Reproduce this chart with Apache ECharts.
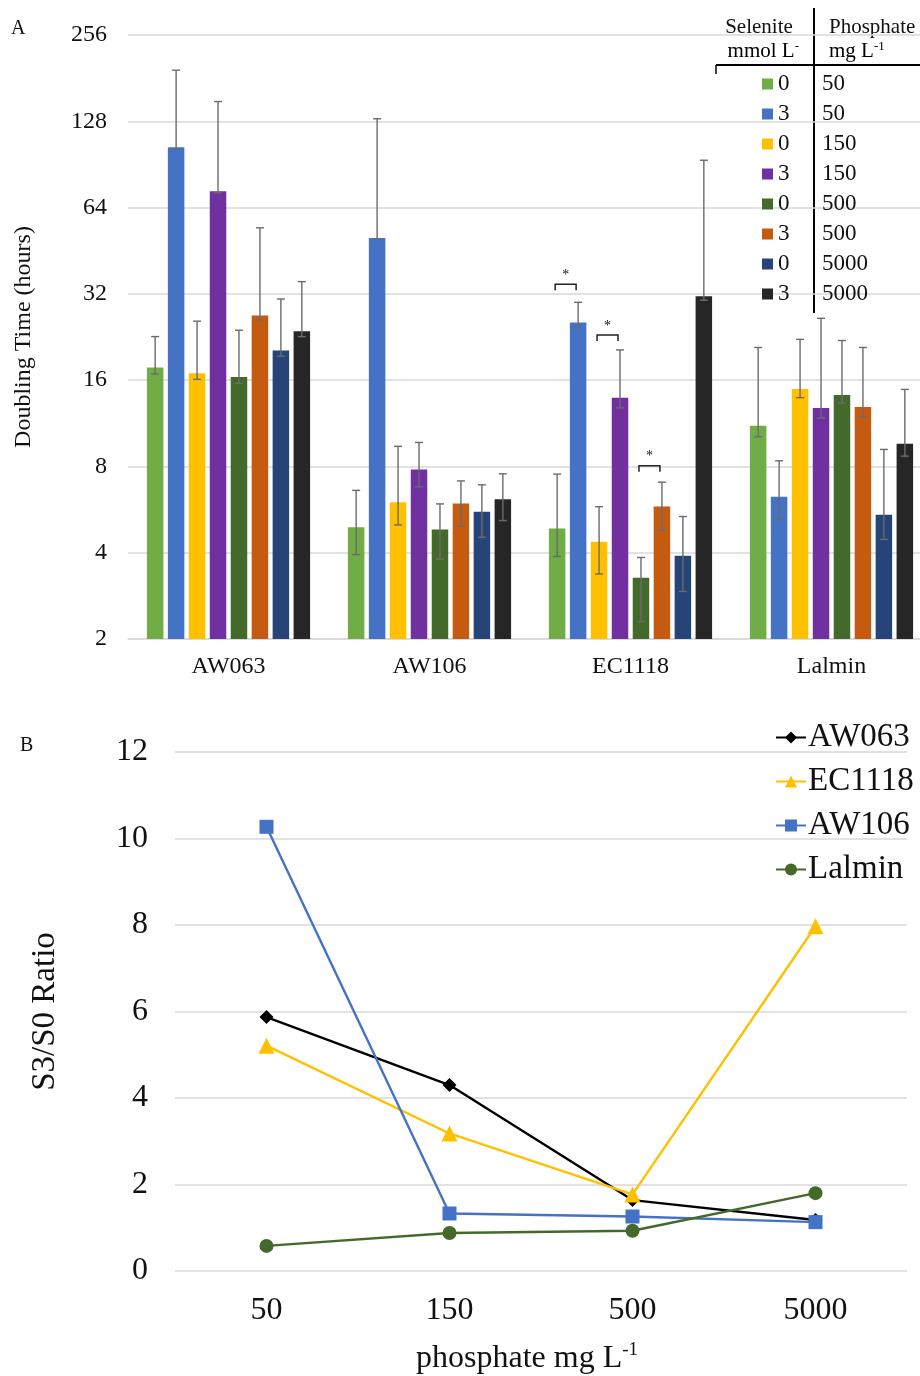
<!DOCTYPE html>
<html><head><meta charset="utf-8">
<script src="https://cdn.jsdelivr.net/npm/echarts@6/dist/echarts.min.js"></script>
<style>html,body{margin:0;padding:0;background:#fff;overflow:hidden}#c{width:940px;height:1376px}</style>
</head><body><div id="c"></div>
<script>
// ---------- Panel A data ----------
const strains = ['AW063', 'AW106', 'EC1118', 'Lalmin'];
const selenite = ['0', '3', '0', '3', '0', '3', '0', '3'];
const phosphate = ['50', '50', '150', '150', '500', '500', '5000', '5000'];
const yTicksA = [2, 4, 8, 16, 32, 64, 128, 256];

// doubling time (hours) per treatment, values for [AW063, AW106, EC1118, Lalmin]
const S0_P50   = [17.7, 4.91, 4.86, 11.1];
const S3_P50   = [104, 50.1, 25.4, 6.27];
const S0_P150  = [16.9, 6.0, 4.37, 14.9];
const S3_P150  = [73, 7.8, 13.9, 12.8];
const S0_P500  = [16.4, 4.82, 3.27, 14.2];
const S3_P500  = [26.9, 5.94, 5.8, 12.9];
const S0_P5000 = [20.3, 5.56, 3.9, 5.43];
const S3_P5000 = [23.7, 6.14, 31.4, 9.6];
// error bar upper ends
const S0_P50_hi   = [22.7, 6.6, 7.52, 20.8];
const S3_P50_hi   = [193, 130.6, 29.9, 8.37];
const S0_P150_hi  = [25.7, 9.4, 5.79, 22.2];
const S3_P150_hi  = [150, 9.7, 20.4, 26.3];
const S0_P500_hi  = [23.9, 5.92, 3.85, 22.0];
const S3_P500_hi  = [54.4, 7.12, 7.05, 20.8];
const S0_P5000_hi = [30.7, 6.9, 5.35, 9.17];
const S3_P5000_hi = [35.3, 7.54, 93.6, 14.85];
// error bar lower ends
const S0_P50_lo   = [16.8, 3.94, 3.88, 10.15];
const S3_P50_lo   = [102.5, 49.7, 24.6, 5.24];
const S0_P150_lo  = [16.1, 5.0, 3.37, 13.9];
const S3_P150_lo  = [72, 6.8, 12.8, 11.8];
const S0_P500_lo  = [15.6, 3.8, 2.3, 13.3];
const S3_P500_lo  = [26.0, 4.95, 4.79, 11.9];
const S0_P5000_lo = [19.4, 4.53, 2.93, 4.45];
const S3_P5000_lo = [22.7, 5.18, 30.4, 8.69];
// significance brackets: [strain index, treatment a, treatment b, height (hours)]
const sigBrackets = [[2, 0, 1, 34.6], [2, 2, 3, 23.0], [2, 4, 5, 8.05]];

// ---------- Panel B data ----------
const phosphateB = ['50', '150', '500', '5000'];
const ratioAW063  = [5.87, 4.30, 1.64, 1.18];
const ratioEC1118 = [5.21, 3.18, 1.77, 7.97];
const ratioAW106  = [10.27, 1.33, 1.26, 1.13];
const ratioLalmin = [0.58, 0.88, 0.93, 1.80];

// ---------- styling ----------
const FONT = '"Liberation Serif", "Times New Roman", serif';
const barColors = ['#70AD47', '#4472C4', '#FFC000', '#7030A0', '#436A2B', '#C55A11', '#264478', '#262626'];
const values = [S0_P50, S3_P50, S0_P150, S3_P150, S0_P500, S3_P500, S0_P5000, S3_P5000];
const his = [S0_P50_hi, S3_P50_hi, S0_P150_hi, S3_P150_hi, S0_P500_hi, S3_P500_hi, S0_P5000_hi, S3_P5000_hi];
const los = [S0_P50_lo, S3_P50_lo, S0_P150_lo, S3_P150_lo, S0_P500_lo, S3_P500_lo, S0_P5000_lo, S3_P5000_lo];
const treatNames = selenite.map((s, i) => 'Se' + s + '_P' + phosphate[i]);
const BAR_W = 16.5, BAR_GAP = 0.27;
const PITCH = BAR_W * (1 + BAR_GAP);
const offsetOf = i => (i - 3.5) * PITCH;

const barSeries = values.map((v, i) => ({
  name: treatNames[i], type: 'bar', xAxisIndex: 0, yAxisIndex: 0,
  data: v, barWidth: BAR_W, barGap: (BAR_GAP * 100) + '%',
  itemStyle: { color: barColors[i] }, z: 2
}));

const errData = [];
values.forEach((v, i) => v.forEach((_, c) => errData.push([c, los[i][c], his[i][c], i])));

const errSeries = {
  type: 'custom', xAxisIndex: 0, yAxisIndex: 0, z: 5, silent: true,
  data: errData, encode: { x: 0, y: [1, 2] },
  renderItem: (params, api) => {
    const c = api.value(0), lo = api.value(1), hi = api.value(2), i = api.value(3);
    const pH = api.coord([c, hi]), pL = api.coord([c, lo]);
    const x = pH[0] + offsetOf(i);
    const st = { stroke: '#6b6b6b', lineWidth: 1.4 };
    return { type: 'group', children: [
      { type: 'line', shape: { x1: x, y1: pH[1], x2: x, y2: pL[1] }, style: st },
      { type: 'line', shape: { x1: x - 4, y1: pH[1], x2: x + 4, y2: pH[1] }, style: st },
      { type: 'line', shape: { x1: x - 4, y1: pL[1], x2: x + 4, y2: pL[1] }, style: st }
    ]};
  }
};

const sigSeries = {
  type: 'custom', xAxisIndex: 0, yAxisIndex: 0, z: 6, silent: true,
  data: sigBrackets, encode: { x: 0, y: 3 },
  renderItem: (params, api) => {
    const c = api.value(0), a = api.value(1), b = api.value(2), h = api.value(3);
    const p = api.coord([c, h]);
    const x1 = p[0] + offsetOf(a) - 2, x2 = p[0] + offsetOf(b) - 2, y = p[1];
    const st = { stroke: '#222', lineWidth: 1.5, fill: null };
    return { type: 'group', children: [
      { type: 'polyline', shape: { points: [[x1, y + 6], [x1, y], [x2, y], [x2, y + 6]] }, style: st },
      { type: 'text', style: { text: '*', x: (x1 + x2) / 2, y: y - 2, align: 'center', verticalAlign: 'bottom', font: '14px ' + FONT, fill: '#111' } }
    ]};
  }
};

const lineColors = { AW063: '#000000', EC1118: '#FFC000', AW106: '#4472C4', Lalmin: '#436A2B' };
const mkLine = (name, data, symbol, size) => ({
  name, type: 'line', xAxisIndex: 1, yAxisIndex: 1, data,
  symbol, symbolSize: size, lineStyle: { width: 2.4, color: lineColors[name] },
  itemStyle: { color: lineColors[name] }
});

const chart = echarts.init(document.getElementById('c'), null, { renderer: 'canvas' });
chart.setOption({
  backgroundColor: '#fff',
  animation: false,
  textStyle: { fontFamily: FONT },
  grid: [
    { left: 128, top: 35, width: 804, height: 604, containLabel: false, outerBoundsMode: 'none' },
    { left: 175, top: 752, width: 732, height: 519, containLabel: false, outerBoundsMode: 'none' }
  ],
  xAxis: [
    { type: 'category', gridIndex: 0, data: strains,
      axisLine: { lineStyle: { color: '#d9d9d9', width: 1.5 } }, axisTick: { show: false },
      axisLabel: { fontSize: 24, color: '#111', margin: 16, fontFamily: FONT } },
    { type: 'category', gridIndex: 1, data: phosphateB,
      axisLine: { show: false }, axisTick: { show: false },
      axisLabel: { fontSize: 32, color: '#111', margin: 24, fontFamily: FONT },
      name: '{n|phosphate mg L}{s|-1}', nameLocation: 'middle', nameGap: 70,
      nameTextStyle: { padding: [0, 28, 0, 0], rich: {
        n: { fontSize: 32, fontFamily: FONT, color: '#111', lineHeight: 36 },
        s: { fontSize: 19, fontFamily: FONT, color: '#111', verticalAlign: 'top', lineHeight: 19 } } } }
  ],
  yAxis: [
    { type: 'log', logBase: 2, gridIndex: 0, min: yTicksA[0], max: yTicksA[yTicksA.length - 1], startValue: 2,
      axisLine: { show: false }, axisTick: { show: false },
      splitLine: { lineStyle: { color: '#d9d9d9', width: 1.5 } }, minorSplitLine: { show: false },
      axisLabel: { fontSize: 24, color: '#111', margin: 21, fontFamily: FONT },
      name: 'Doubling Time (hours)', nameLocation: 'middle', nameGap: 92, nameRotate: 90,
      nameTextStyle: { fontSize: 24, color: '#111', fontFamily: FONT } },
    { type: 'value', gridIndex: 1, min: 0, max: 12, interval: 2,
      axisLine: { show: false }, axisTick: { show: false },
      splitLine: { lineStyle: { color: '#d9d9d9', width: 1.5 } },
      axisLabel: { fontSize: 32, color: '#111', margin: 27, fontFamily: FONT },
      name: 'S3/S0 Ratio', nameLocation: 'middle', nameGap: 113, nameRotate: 90,
      nameTextStyle: { fontSize: 33, color: '#111', fontFamily: FONT } }
  ],
  legend: [
    { data: treatNames, orient: 'vertical', left: 757, top: 67, icon: 'rect',
      itemWidth: 11, itemHeight: 11, itemGap: 6, selectedMode: false,
      formatter: name => { const i = treatNames.indexOf(name); return '{a|' + selenite[i] + '}{b|' + phosphate[i] + '}'; },
      textStyle: { fontFamily: FONT, color: '#111', lineHeight: 24,
        rich: { a: { fontSize: 23, width: 44, fontFamily: FONT, color: '#111' },
                b: { fontSize: 23, fontFamily: FONT, color: '#111' } } } },
    { data: ['AW063', 'EC1118', 'AW106', 'Lalmin'], orient: 'vertical', left: 770, top: 715,
      itemWidth: 30, itemHeight: 15, itemGap: 9, selectedMode: false,
      textStyle: { fontSize: 33, fontFamily: FONT, color: '#111', lineHeight: 35, padding: [0, 0, 0, -3] } }
  ],
  graphic: [
    { type: 'text', left: 11, top: 19, style: { text: 'A', font: '20px ' + FONT, fill: '#111' } },
    { type: 'text', left: 20, top: 736, style: { text: 'B', font: '20px ' + FONT, fill: '#111' } },
    { type: 'line', shape: { x1: 814, y1: 8, x2: 814, y2: 313 }, style: { stroke: '#000', lineWidth: 2 } },
    { type: 'line', shape: { x1: 716, y1: 65, x2: 920, y2: 65 }, style: { stroke: '#000', lineWidth: 2 } },
    { type: 'line', shape: { x1: 716, y1: 65, x2: 716, y2: 74 }, style: { stroke: '#000', lineWidth: 1.5 } },
    { type: 'text', x: 759, y: 27, style: { text: 'Selenite', align: 'center', verticalAlign: 'middle', font: '21px ' + FONT, fill: '#111' } },
    { type: 'text', x: 799, y: 51, style: { text: '{n|mmol L}{s|-}', align: 'right', verticalAlign: 'middle',
        rich: { n: { fontSize: 21, fontFamily: FONT, color: '#111', lineHeight: 22 }, s: { fontSize: 13, fontFamily: FONT, color: '#111', verticalAlign: 'top', lineHeight: 13 } } } },
    { type: 'text', x: 829, y: 27, style: { text: 'Phosphate', align: 'left', verticalAlign: 'middle', font: '21px ' + FONT, fill: '#111' } },
    { type: 'text', x: 829, y: 51, style: { text: '{n|mg L}{s|-1}', align: 'left', verticalAlign: 'middle',
        rich: { n: { fontSize: 21, fontFamily: FONT, color: '#111', lineHeight: 22 }, s: { fontSize: 13, fontFamily: FONT, color: '#111', verticalAlign: 'top', lineHeight: 13 } } } }
  ],
  series: [
    ...barSeries, errSeries, sigSeries,
    mkLine('AW063', ratioAW063, 'diamond', 14),
    mkLine('EC1118', ratioEC1118, 'triangle', 16),
    mkLine('AW106', ratioAW106, 'rect', 14),
    mkLine('Lalmin', ratioLalmin, 'circle', 14)
  ]
});
</script></body></html>
